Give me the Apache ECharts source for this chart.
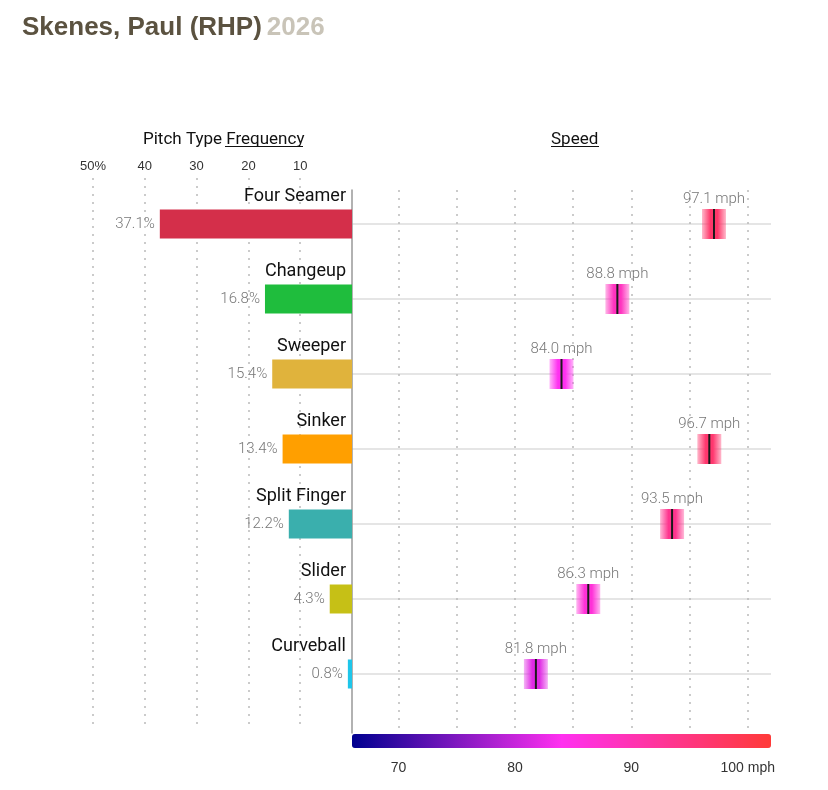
<!DOCTYPE html>
<html>
<head>
<meta charset="utf-8">
<script src="https://cdn.jsdelivr.net/npm/echarts@6/dist/echarts.min.js"></script>
<style>
  html, body { margin: 0; padding: 0; background: #fff; }
  #chart { width: 828px; height: 790px; }
</style>
</head>
<body>
<div id="chart"></div>
<script>
var pitchTypes = ['Four Seamer', 'Changeup', 'Sweeper', 'Sinker', 'Split Finger', 'Slider', 'Curveball'];
var usagePct = [37.1, 16.8, 15.4, 13.4, 12.2, 4.3, 0.8];
var avgSpeed = [97.1, 88.8, 84.0, 96.7, 93.5, 86.3, 81.8];
var pitchColors = ['#d42f4a', '#1fbd3d', '#e0b33c', '#ff9f00', '#3aafad', '#c6c016', '#1ec6ea'];
var speedScale = ['#00008f', '#ff30f0', '#ff3a38'];

var chart = echarts.init(document.getElementById('chart'));

var condFont = 'Roboto, "Noto Sans", sans-serif';

var option = {
    backgroundColor: '#fff',
    animation: false,
    title: [
        {
            left: 17, top: 10,
            text: '{a|Skenes, Paul (RHP)} {b|2026}',
            textStyle: {
                rich: {
                    a: { fontFamily: '"Liberation Sans", Arial, sans-serif', fontWeight: 'bold', fontSize: 26, color: '#5b5240' },
                    b: { fontFamily: '"Liberation Sans", Arial, sans-serif', fontWeight: 'bold', fontSize: 26, color: '#c9c4b8' }
                }
            }
        },
        {
            left: 138, top: 126,
            text: 'Pitch Type Frequency',
            textStyle: { fontFamily: condFont, fontWeight: 'normal', fontSize: 17, color: '#111' }
        },
        {
            left: 546, top: 126,
            text: 'Speed',
            textStyle: { fontFamily: condFont, fontWeight: 'normal', fontSize: 17, color: '#111' }
        }
    ],
    graphic: [
        { type: 'line', shape: { x1: 225, y1: 146.5, x2: 303, y2: 146.5 }, style: { stroke: '#111', lineWidth: 1 } },
        { type: 'line', shape: { x1: 551, y1: 146.5, x2: 599, y2: 146.5 }, style: { stroke: '#111', lineWidth: 1 } }
    ],
    grid: [
        { left: 93, width: 259, top: 186.5, height: 525 },
        { left: 352, width: 419, top: 224, height: 450 },
        { left: 93, width: 259, top: 178, height: 552 },
        { left: 352, width: 419, top: 190, height: 543 }
    ],
    xAxis: [
        { gridIndex: 0, type: 'value', min: 0, max: 50, inverse: true, show: false },
        { gridIndex: 1, type: 'value', min: 66, max: 102, show: false },
        {
            gridIndex: 2, type: 'value', min: 0, max: 50, interval: 10, inverse: true, position: 'top',
            axisLine: { show: false }, axisTick: { show: false },
            axisLabel: {
                margin: 5, color: '#333', fontSize: 13, fontFamily: '"Liberation Sans", Arial, sans-serif',
                formatter: function (v) { return v === 0 ? '' : (v === 50 ? '50%' : v); }
            },
            splitLine: { show: true, showMinLine: false, lineStyle: { color: '#bbb', type: [2, 6], width: 1.5 } }
        },
        {
            gridIndex: 3, type: 'value', min: 66, max: 102, splitNumber: 8, minInterval: 5, maxInterval: 5,
            position: 'bottom',
            axisLine: { show: false }, axisTick: { show: false },
            axisLabel: {
                margin: 28, color: '#333', fontSize: 14, fontFamily: '"Liberation Sans", Arial, sans-serif',
                showMinLabel: false, showMaxLabel: false,
                formatter: function (v) {
                    if (v % 10 !== 0) return '';
                    return v === 100 ? '100 mph' : String(v);
                }
            },
            splitLine: { show: true, showMinLine: false, showMaxLine: false, lineStyle: { color: '#bbb', type: [2, 6], width: 1.5 } }
        }
    ],
    yAxis: [
        {
            gridIndex: 0, type: 'category', data: pitchTypes, inverse: true, position: 'right', z: 5,
            axisLine: { show: false }, axisTick: { show: false }, splitLine: { show: false },
            axisLabel: {
                inside: true, margin: 6, color: '#111', fontSize: 18, fontFamily: condFont,
                verticalAlign: 'bottom', lineHeight: 56
            }
        },
        {
            gridIndex: 1, type: 'category', data: pitchTypes, inverse: true, boundaryGap: false,
            axisLine: { show: false }, axisTick: { show: false }, axisLabel: { show: false },
            splitLine: { show: true, lineStyle: { color: '#ddd', width: 1.5 } }
        },
        { gridIndex: 2, type: 'value', show: false },
        {
            gridIndex: 3, type: 'value', position: 'left',
            axisLine: { show: true, lineStyle: { color: '#999', width: 1.5 } },
            axisTick: { show: false }, axisLabel: { show: false }, splitLine: { show: false }
        }
    ],
    visualMap: {
        type: 'continuous',
        min: 66, max: 102,
        orient: 'horizontal',
        left: 352, top: 734,
        itemWidth: 14, itemHeight: 419,
        padding: 0,
        calculable: false,
        hoverLink: false,
        seriesIndex: 1,
        dimension: 0,
        inRange: { color: speedScale }
    },
    series: [
        {
            type: 'bar',
            xAxisIndex: 0, yAxisIndex: 0,
            barWidth: 29,
            data: usagePct.map(function (v, i) {
                return { value: v, itemStyle: { color: pitchColors[i] } };
            }),
            label: {
                show: true, position: 'left', distance: 5,
                color: '#777', fontSize: 15, fontWeight: 300, fontFamily: condFont,
                formatter: function (p) { return p.value.toFixed(1) + '%'; }
            }
        },
        {
            type: 'custom',
            xAxisIndex: 1, yAxisIndex: 1,
            data: avgSpeed.map(function (v, i) { return [v, i]; }),
            renderItem: function (params, api) {
                var p = api.coord([api.value(0), api.value(1)]);
                var c = api.visual('color');
                var w = 24, h = 30;
                var edge = echarts.color.modifyAlpha(c, 0.35);
                return {
                    type: 'group',
                    children: [
                        {
                            type: 'rect',
                            shape: { x: p[0] - w / 2, y: p[1] - h / 2, width: w, height: h },
                            style: {
                                fill: new echarts.graphic.LinearGradient(0, 0, 1, 0, [
                                    { offset: 0, color: edge },
                                    { offset: 0.35, color: c },
                                    { offset: 0.65, color: c },
                                    { offset: 1, color: edge }
                                ])
                            }
                        },
                        {
                            type: 'rect',
                            shape: { x: p[0] - 1, y: p[1] - h / 2, width: 2, height: h },
                            style: { fill: '#1a1a1a' }
                        },
                        {
                            type: 'text',
                            x: p[0], y: p[1] - 17,
                            style: {
                                text: api.value(0).toFixed(1) + ' mph',
                                align: 'center', verticalAlign: 'bottom',
                                fill: '#777', fontSize: 15, fontWeight: 300, fontFamily: condFont
                            }
                        }
                    ]
                };
            }
        }
    ]
};

chart.setOption(option);
</script>
</body>
</html>
